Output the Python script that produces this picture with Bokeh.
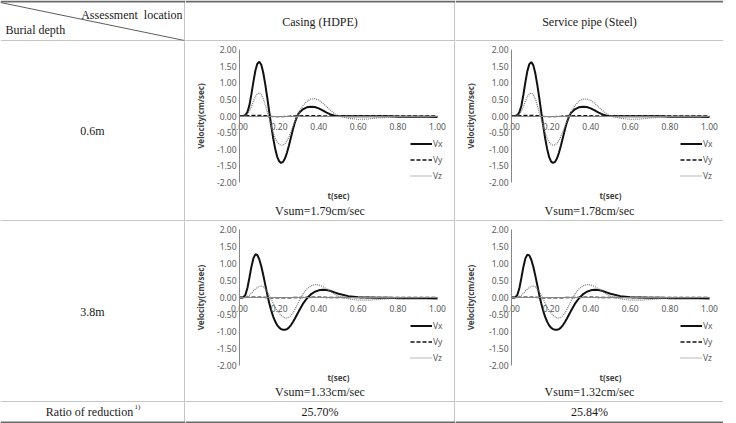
import math
from bokeh.plotting import figure
from bokeh.layouts import row, column
from bokeh.models import Range1d, FixedTicker, NumeralTickFormatter, Legend, LegendItem
from bokeh.embed import file_html
from bokeh.resources import INLINE
from bokeh.core.properties import value

# ---------------- data ----------------
T = [0.00, 0.01, 0.02, 0.03, 0.04, 0.05, 0.06, 0.07, 0.08, 0.09,
     0.10, 0.11, 0.12, 0.13, 0.14, 0.15, 0.16, 0.17, 0.18, 0.19,
     0.20, 0.21, 0.22, 0.23, 0.24, 0.25, 0.26, 0.27, 0.28, 0.29,
     0.30, 0.32, 0.34, 0.36, 0.38, 0.40, 0.42, 0.44, 0.46, 0.48,
     0.50, 0.55, 0.60, 0.65, 0.70, 0.75, 0.80, 0.85, 0.90, 0.95, 1.00]

hdpe06_vx = [0, 0, 0.00, 0.03, 0.12, 0.32, 0.65, 1.02, 1.36, 1.57,
             1.63, 1.54, 1.30, 0.96, 0.56, 0.14, -0.28, -0.66, -0.98, -1.22,
             -1.36, -1.41, -1.38, -1.27, -1.10, -0.88, -0.64, -0.40, -0.19, -0.02,
             0.09, 0.20, 0.26, 0.28, 0.27, 0.23, 0.17, 0.10, 0.05, 0.01,
             0.00, -0.01, -0.01, -0.01, -0.01, -0.01, -0.02, -0.02, -0.02, -0.02, -0.03]
hdpe06_vy = [0, 0, 0, 0, 0.01, 0.01, 0.02, 0.02, 0.02, 0.02,
             0.02, 0.02, 0.01, 0.01, 0, -0.01, -0.01, -0.02, -0.02, -0.02,
             -0.02, -0.02, -0.02, -0.01, -0.01, -0.01, 0, 0, 0, 0,
             0, 0.01, 0.01, 0.01, 0.01, 0.01, 0, 0, 0, 0,
             0, 0, 0, 0, 0, 0, 0, 0, 0, 0, 0]
hdpe06_vz = [0, 0, 0, 0.01, 0.05, 0.14, 0.28, 0.44, 0.58, 0.67,
             0.70, 0.65, 0.52, 0.34, 0.13, -0.08, -0.30, -0.50, -0.66, -0.78,
             -0.85, -0.88, -0.88, -0.83, -0.74, -0.62, -0.47, -0.31, -0.16, -0.02,
             0.11, 0.31, 0.44, 0.51, 0.52, 0.48, 0.39, 0.28, 0.17, 0.07,
             0.00, -0.07, -0.10, -0.09, -0.06, -0.04, -0.02, -0.01, -0.01, -0.01, -0.01]

steel06_vx = [0, 0, 0.00, 0.03, 0.12, 0.31, 0.64, 1.01, 1.35, 1.56,
              1.62, 1.53, 1.29, 0.95, 0.55, 0.13, -0.29, -0.67, -0.99, -1.23,
              -1.37, -1.41, -1.38, -1.27, -1.10, -0.88, -0.64, -0.40, -0.19, -0.02,
              0.09, 0.20, 0.26, 0.28, 0.27, 0.23, 0.17, 0.10, 0.05, 0.01,
              0.00, -0.01, -0.01, -0.01, -0.01, -0.01, -0.02, -0.02, -0.02, -0.02, -0.03]
steel06_vy = [0, 0, 0, 0, 0.01, 0.01, 0.02, 0.02, 0.02, 0.02,
              0.02, 0.02, 0.01, 0.01, 0, -0.01, -0.01, -0.02, -0.02, -0.02,
              -0.02, -0.02, -0.02, -0.01, -0.01, -0.01, 0, 0, 0, 0,
              0, 0.01, 0.01, 0.01, 0.01, 0.01, 0, 0, 0, 0,
              0, 0, 0, 0, 0, 0, 0, 0, 0, 0, 0]
steel06_vz = [0, 0, 0, 0.01, 0.05, 0.14, 0.28, 0.44, 0.58, 0.67,
              0.69, 0.64, 0.51, 0.33, 0.12, -0.09, -0.30, -0.50, -0.66, -0.78,
              -0.85, -0.88, -0.87, -0.82, -0.73, -0.61, -0.46, -0.30, -0.15, -0.01,
              0.12, 0.31, 0.44, 0.51, 0.51, 0.47, 0.38, 0.27, 0.16, 0.07,
              0.00, -0.07, -0.10, -0.09, -0.06, -0.04, -0.02, -0.01, -0.01, -0.01, -0.01]

hdpe38_vx = [0, 0, 0.01, 0.08, 0.28, 0.58, 0.90, 1.15, 1.27, 1.25,
             1.12, 0.92, 0.66, 0.38, 0.10, -0.16, -0.38, -0.56, -0.70, -0.81,
             -0.88, -0.93, -0.95, -0.95, -0.93, -0.88, -0.81, -0.72, -0.62, -0.51,
             -0.40, -0.19, -0.03, 0.09, 0.17, 0.21, 0.23, 0.22, 0.19, 0.15,
             0.11, 0.04, 0.01, 0.00, -0.01, -0.01, -0.02, -0.02, -0.02, -0.02, -0.03]
hdpe38_vy = [0, 0, 0, 0, 0.01, 0.01, 0.01, 0.01, 0.01, 0.01,
             0.01, 0.01, 0.01, 0, 0, 0, -0.01, -0.01, -0.01, -0.01,
             -0.01, -0.01, -0.01, -0.01, -0.01, -0.01, -0.01, 0, 0, 0,
             0, 0, 0.01, 0.01, 0.01, 0.01, 0.01, 0, 0, 0,
             0, 0, 0, 0, 0, 0, 0, 0, 0, 0, 0]
hdpe38_vz = [0, 0, 0, 0.01, 0.03, 0.07, 0.13, 0.19, 0.25, 0.30,
             0.33, 0.34, 0.32, 0.26, 0.17, 0.06, -0.05, -0.17, -0.28, -0.38,
             -0.46, -0.53, -0.57, -0.60, -0.60, -0.58, -0.53, -0.45, -0.35, -0.23,
             -0.11, 0.10, 0.25, 0.34, 0.38, 0.37, 0.32, 0.25, 0.17, 0.10,
             0.04, -0.04, -0.08, -0.08, -0.06, -0.04, -0.02, -0.01, -0.01, 0.00, 0.00]

steel38_vx = [0, 0, 0.01, 0.08, 0.28, 0.58, 0.90, 1.15, 1.26, 1.24,
              1.11, 0.91, 0.65, 0.37, 0.09, -0.17, -0.39, -0.57, -0.71, -0.82,
              -0.89, -0.93, -0.95, -0.95, -0.93, -0.88, -0.81, -0.72, -0.62, -0.51,
              -0.40, -0.19, -0.03, 0.09, 0.17, 0.21, 0.23, 0.22, 0.19, 0.15,
              0.11, 0.04, 0.01, 0.00, -0.01, -0.01, -0.02, -0.02, -0.02, -0.02, -0.03]
steel38_vy = [0, 0, 0, 0, 0.01, 0.01, 0.01, 0.01, 0.01, 0.01,
              0.01, 0.01, 0.01, 0, 0, 0, -0.01, -0.01, -0.01, -0.01,
              -0.01, -0.01, -0.01, -0.01, -0.01, -0.01, -0.01, 0, 0, 0,
              0, 0, 0.01, 0.01, 0.01, 0.01, 0.01, 0, 0, 0,
              0, 0, 0, 0, 0, 0, 0, 0, 0, 0, 0]
steel38_vz = [0, 0, 0, 0.01, 0.03, 0.07, 0.13, 0.19, 0.25, 0.30,
              0.33, 0.34, 0.32, 0.26, 0.17, 0.06, -0.05, -0.17, -0.28, -0.38,
              -0.46, -0.53, -0.57, -0.60, -0.60, -0.58, -0.53, -0.45, -0.35, -0.23,
              -0.11, 0.10, 0.25, 0.34, 0.38, 0.37, 0.32, 0.25, 0.17, 0.10,
              0.04, -0.04, -0.08, -0.08, -0.06, -0.04, -0.02, -0.01, -0.01, 0.00, 0.00]

x_ticks = [0.0, 0.2, 0.4, 0.6, 0.8, 1.0]
y_ticks = [-2.0, -1.5, -1.0, -0.5, 0.0, 0.5, 1.0, 1.5, 2.0]
series_names = ["Vx", "Vy", "Vz"]

col_headers = ["Casing (HDPE)", "Service pipe (Steel)"]
row_labels = ["0.6m", "3.8m"]
vsum_labels = [["Vsum=1.79cm/sec", "Vsum=1.78cm/sec"],
               ["Vsum=1.33cm/sec", "Vsum=1.32cm/sec"]]
ratio_label = "Ratio of reduction"
ratio_values = ["25.70%", "25.84%"]

# ---------------- styling ----------------
SERIF = "Liberation Serif"
SANS = "Noto Sans"
GRID_C = "#8a8a8a"
EDGE_C = "#6a6a6a"
TICK_C = "#595959"
TEXT_C = "#1a1a1a"
TICK_FS = "8.5px"

W0, W1, W2 = 185, 270, 268          # cell widths (incl. right border pixel)
H_HEAD, H_R1, H_R2, H_BOT = 41, 180, 181, 21
PX_X = 198.0                        # pixels per second on the t axis


def borders(p, w, h, right=True, top2=False, bottom=1, **rn):
    if right:
        p.line(x=[w - 0.5, w - 0.5], y=[0, h], line_color=GRID_C, line_width=1, **rn)
    if top2:
        p.line(x=[0, w], y=[1, 1], line_color=EDGE_C, line_width=2, **rn)
    if bottom == 1:
        p.line(x=[0, w], y=[h - 0.5, h - 0.5], line_color=GRID_C, line_width=1, **rn)
    elif bottom == 2:
        p.line(x=[0, w], y=[h - 1, h - 1], line_color=EDGE_C, line_width=2, **rn)


def blank(w, h):
    p = figure(width=w, height=h, x_range=Range1d(0, w), y_range=Range1d(h, 0),
               output_backend="svg", toolbar_location=None, min_border=0,
               x_axis_location=None, y_axis_location=None, outline_line_color=None)
    p.grid.visible = False
    return p


def txt(p, x, y, s, size="12px", align="center", font=SERIF, color=TEXT_C, **rn):
    p.text(x=[x], y=[y], text=[s], text_font=value(font), text_font_size=size,
           text_align=align, text_baseline="middle", text_color=color, **rn)


def chart(w, h, frame_left, top_px, bot_px, vx, vy, vz, vsum, leg_x, leg_bottom, t_px, v_px, right):
    unit = (bot_px - top_px) / 4.0
    y_top = 2.0 + top_px / unit
    y_bot = -2.0 - (h - bot_px) / unit
    p = figure(width=w, height=h,
               x_range=Range1d(-frame_left / PX_X, (w - frame_left) / PX_X),
               y_range=Range1d(y_bot, y_top),
               output_backend="svg", toolbar_location=None, min_border=0,
               outline_line_color=None)
    p.grid.visible = False
    p.extra_x_ranges = {"px": Range1d(0, w)}
    p.extra_y_ranges = {"px": Range1d(h, 0)}
    rn = dict(x_range_name="px", y_range_name="px")

    yax = p.yaxis[0]
    yax.fixed_location = 0
    yax.ticker = FixedTicker(ticks=y_ticks)
    yax.formatter = NumeralTickFormatter(format="0.00")
    yax.bounds = (-2, 2)
    yax.axis_line_color = "#868686"
    yax.major_tick_in = 0
    yax.major_tick_out = 0
    yax.minor_tick_in = 0
    yax.minor_tick_out = 0
    yax.major_label_standoff = 3
    yax.major_label_text_font = SANS
    yax.major_label_text_font_size = TICK_FS
    yax.major_label_text_color = TICK_C

    xax = p.xaxis[0]
    xax.fixed_location = 0
    xax.ticker = FixedTicker(ticks=x_ticks)
    xax.formatter = NumeralTickFormatter(format="0.00")
    xax.bounds = (0, 1)
    xax.axis_line_color = "#868686"
    xax.major_tick_in = 0
    xax.major_tick_out = 0
    xax.minor_tick_in = 0
    xax.minor_tick_out = 0
    xax.major_label_standoff = 7
    xax.major_label_text_font = SANS
    xax.major_label_text_font_size = TICK_FS
    xax.major_label_text_color = TICK_C

    r_x = p.line(T, vx, line_color="#111111", line_width=2)
    r_y = p.line(T, vy, line_color="#111111", line_width=1.3, line_dash="4 2")
    r_z = p.line(T, vz, line_color="#7a7a7a", line_width=1.2, line_dash="1 1")

    leg = Legend(items=[LegendItem(label=n, renderers=[r]) for n, r in zip(series_names, [r_x, r_y, r_z])],
                 location=(leg_x, leg_bottom), orientation="vertical",
                 background_fill_alpha=0, border_line_color=None, padding=0, margin=0,
                 spacing=1, glyph_width=22, glyph_height=15, label_height=15,
                 label_standoff=1, label_text_font=SANS, label_text_font_size=TICK_FS,
                 label_text_color=TICK_C)
    p.add_layout(leg)

    p.text(x=[15], y=[(top_px + bot_px) / 2.0], text=["Velocity(cm/sec)"], angle=math.pi / 2,
           text_font=value(SANS), text_font_size="8px", text_font_style="bold",
           text_align="center", text_baseline="middle", text_color="#404040", **rn)
    p.text(x=[frame_left + 0.5 * PX_X], y=[t_px], text=["t(sec)"], text_font=value(SANS),
           text_font_size="8px", text_font_style="bold", text_align="center",
           text_baseline="middle", text_color="#404040", **rn)
    txt(p, (w - (1 if right else 0)) / 2.0, v_px, vsum, **rn)
    borders(p, w, h, right=right, bottom=1, **rn)
    return p


# header row
h0 = blank(W0, H_HEAD)
h0.line(x=[0, W0 - 1], y=[2, H_HEAD - 1], line_color="#333333", line_width=0.8)
txt(h0, 182, 14, "Assessment\u00a0\u00a0location", align="right")
txt(h0, 5, 29, "Burial depth", align="left")
borders(h0, W0, H_HEAD, right=True, top2=True)
h1 = blank(W1, H_HEAD)
txt(h1, (W1 - 1) / 2, 21, col_headers[0])
borders(h1, W1, H_HEAD, right=True, top2=True)
h2 = blank(W2, H_HEAD)
txt(h2, W2 / 2, 21, col_headers[1])
borders(h2, W2, H_HEAD, right=False, top2=True)

# row 1
l1 = blank(W0, H_R1)
txt(l1, (W0 - 1) / 2, 89, row_labels[0])
borders(l1, W0, H_R1)
c11 = chart(W1, H_R1, 54, 8, 141, hdpe06_vx, hdpe06_vy, hdpe06_vz, vsum_labels[0][0], 225, 38, 154, 169, True)
c12 = chart(W2, H_R1, 56, 8, 141, steel06_vx, steel06_vy, steel06_vz, vsum_labels[0][1], 225, 38, 154, 169, False)

# row 2
l2 = blank(W0, H_R2)
txt(l2, (W0 - 1) / 2, 90, row_labels[1])
borders(l2, W0, H_R2)
c21 = chart(W1, H_R2, 54, 8, 144, hdpe38_vx, hdpe38_vy, hdpe38_vz, vsum_labels[1][0], 225, 37, 156, 170, True)
c22 = chart(W2, H_R2, 56, 8, 144, steel38_vx, steel38_vy, steel38_vz, vsum_labels[1][1], 225, 37, 156, 170, False)

# bottom row
b0 = blank(W0, H_BOT)
txt(b0, 89, 9, ratio_label)
txt(b0, 134, 4, "1)", size="7px", align="left")
borders(b0, W0, H_BOT, bottom=2)
b1 = blank(W1, H_BOT)
txt(b1, (W1 - 1) / 2, 9, ratio_values[0])
borders(b1, W1, H_BOT, bottom=2)
b2 = blank(W2, H_BOT)
txt(b2, W2 / 2, 9, ratio_values[1])
borders(b2, W2, H_BOT, right=False, bottom=2)

layout = column(
    row(h0, h1, h2),
    row(l1, c11, c12),
    row(l2, c21, c22),
    row(b0, b1, b2),
)

open("out.html", "w").write(file_html(layout, INLINE))
